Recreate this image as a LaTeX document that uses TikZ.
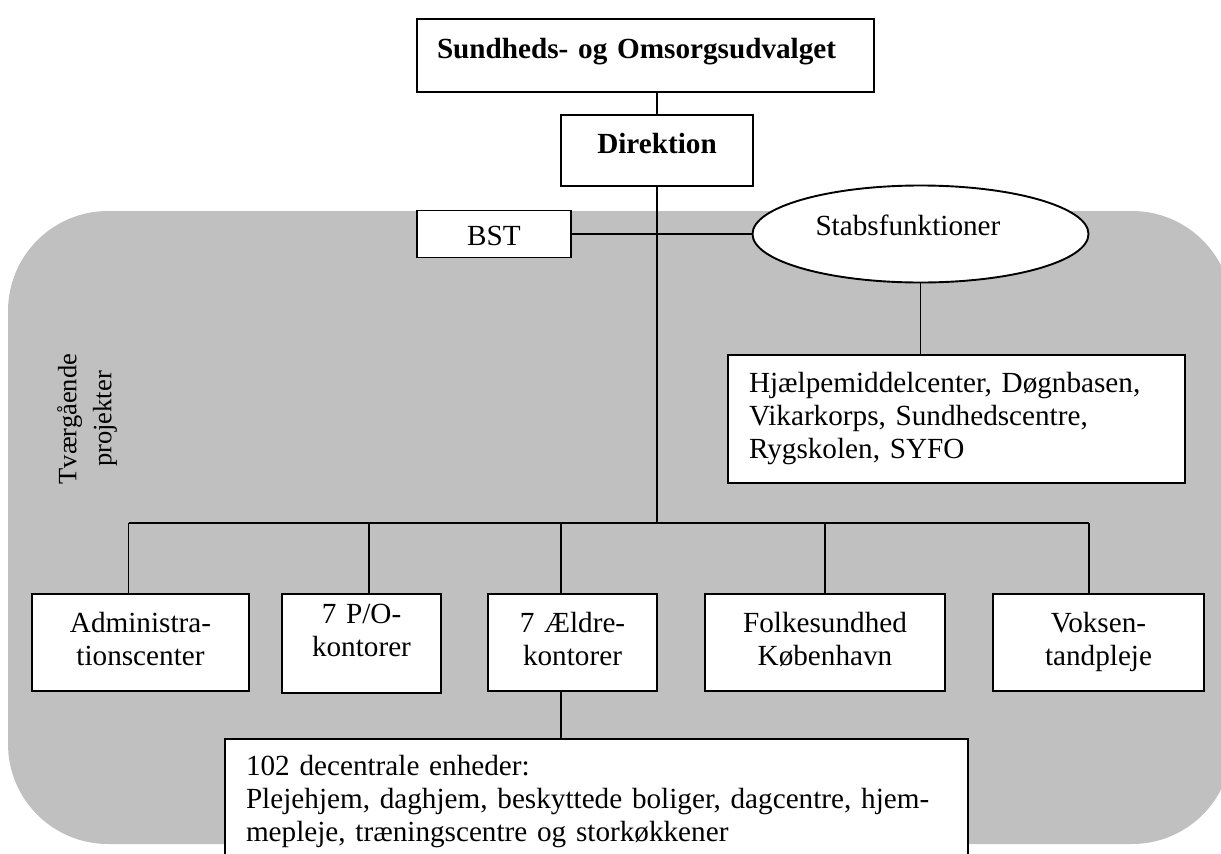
\documentclass[tikz,border=0pt]{standalone}
\usepackage{fontspec}
\setmainfont{Liberation Serif}
\usetikzlibrary{shapes.geometric}
\definecolor{panelgray}{RGB}{192,192,192}
\begin{document}
\begin{tikzpicture}[x=1pt,y=-1pt,
  box/.style={draw=black, line width=1.9pt, fill=white, inner ysep=0pt, inner xsep=0pt,
              font=\fontsize{29.2}{33}\selectfont},
  boldbox/.style={box, font=\fontsize{29.2}{33}\selectfont\bfseries},
  link/.style={draw=black, line width=1.6pt},
  sidetext/.style={font=\fontsize{26.5}{35}\selectfont, rotate=90, align=center, text width=160pt, inner sep=0pt}
]
\useasboundingbox (0,0) rectangle (1221,854);
\clip (0,0) rectangle (1221,854);

% grey panel
\fill[panelgray, rounded corners=100pt] (8,211) rectangle (1232,844);

% nodes
\node[boldbox, minimum width=457pt, minimum height=73pt, inner xsep=20pt, text width=417pt,
      align=left, text height=20pt, text depth=15pt] (top) at (645.5,55.5) {Sundheds- og Omsorgsudvalget};
\node[boldbox, minimum width=192pt, minimum height=71pt, text width=192pt,
      align=center, text height=20pt, text depth=15pt] (dir) at (657,150.5) {Direktion};
\node[box, minimum width=154pt, minimum height=47pt, text width=154pt,
      align=center, text height=23pt, text depth=0pt] (bst) at (494,234) {BST};
\node[box, ellipse, minimum width=336pt, minimum height=97pt, text width=210pt,
      align=left, text height=20pt, text depth=17pt] (stabs) at (920.5,234) {Stabsfunktioner};
\node[box, minimum width=457pt, minimum height=128pt, inner xsep=21pt, text width=415pt,
      align=left, text height=20pt, text depth=74pt] (hj) at (956.5,419)
      {Hjælpemiddelcenter, Døgnbasen,\\Vikarkorps, Sundhedscentre,\\Rygskolen, SYFO};
\node[sidetext] (tvaer) at (87,419) {Tværgående\\projekter};

\node[box, minimum width=217pt, minimum height=97pt, text width=217pt,
      align=center, text height=20pt, text depth=41pt] (admin) at (140.5,642.5) {Administra-\\tionscenter};
\node[box, minimum width=159pt, minimum height=99pt, text width=159pt,
      align=center, text height=20pt, text depth=61pt] (po) at (361.5,643.5) {7 P/O-\\kontorer};
\node[box, minimum width=169pt, minimum height=97pt, text width=169pt,
      align=center, text height=20pt, text depth=41pt] (aeldre) at (572.5,642.5) {7 Ældre-\\kontorer};
\node[box, minimum width=240pt, minimum height=97pt, text width=240pt,
      align=center, text height=20pt, text depth=41pt] (folke) at (825,642.5) {Folkesundhed\\København};
\node[box, minimum width=211pt, minimum height=97pt, text width=211pt,
      align=center, text height=20pt, text depth=41pt] (voksen) at (1098.5,642.5) {Voksen-\\tandpleje};

\node[box, minimum width=743pt, minimum height=141pt, inner xsep=21pt, text width=701pt,
      align=left, text height=20pt, text depth=89pt] (dec) at (596.5,809.5)
      {102 decentrale enheder:\\Plejehjem, daghjem, beskyttede boliger, dagcentre, hjem-\\mepleje, træningscentre og storkøkkener};

% branch points on the distribution bar
\coordinate (d1) at (128.5,523);
\coordinate (d2) at (369,523);
\coordinate (d3) at (561,523);
\coordinate (d4) at (825,523);
\coordinate (d5) at (1089,523);

% connectors
\draw[link] (dir.north |- top.south) -- (dir.north);
\draw[link] (dir.south) -- (dir.south |- d1);
\draw[link] (bst.east) -- (stabs.west);
\draw[link] (stabs.south) -- (stabs.south |- hj.north);
\draw[link] (d1) -- (d5);
\draw[link] (d1) -- (d1 |- admin.north);
\draw[link] (d2) -- (d2 |- po.north);
\draw[link] (d3) -- (d3 |- aeldre.north);
\draw[link] (d4) -- (d4 |- folke.north);
\draw[link] (d5) -- (d5 |- voksen.north);
\draw[link] (d3 |- aeldre.south) -- (d3 |- dec.north);
\end{tikzpicture}
\end{document}
